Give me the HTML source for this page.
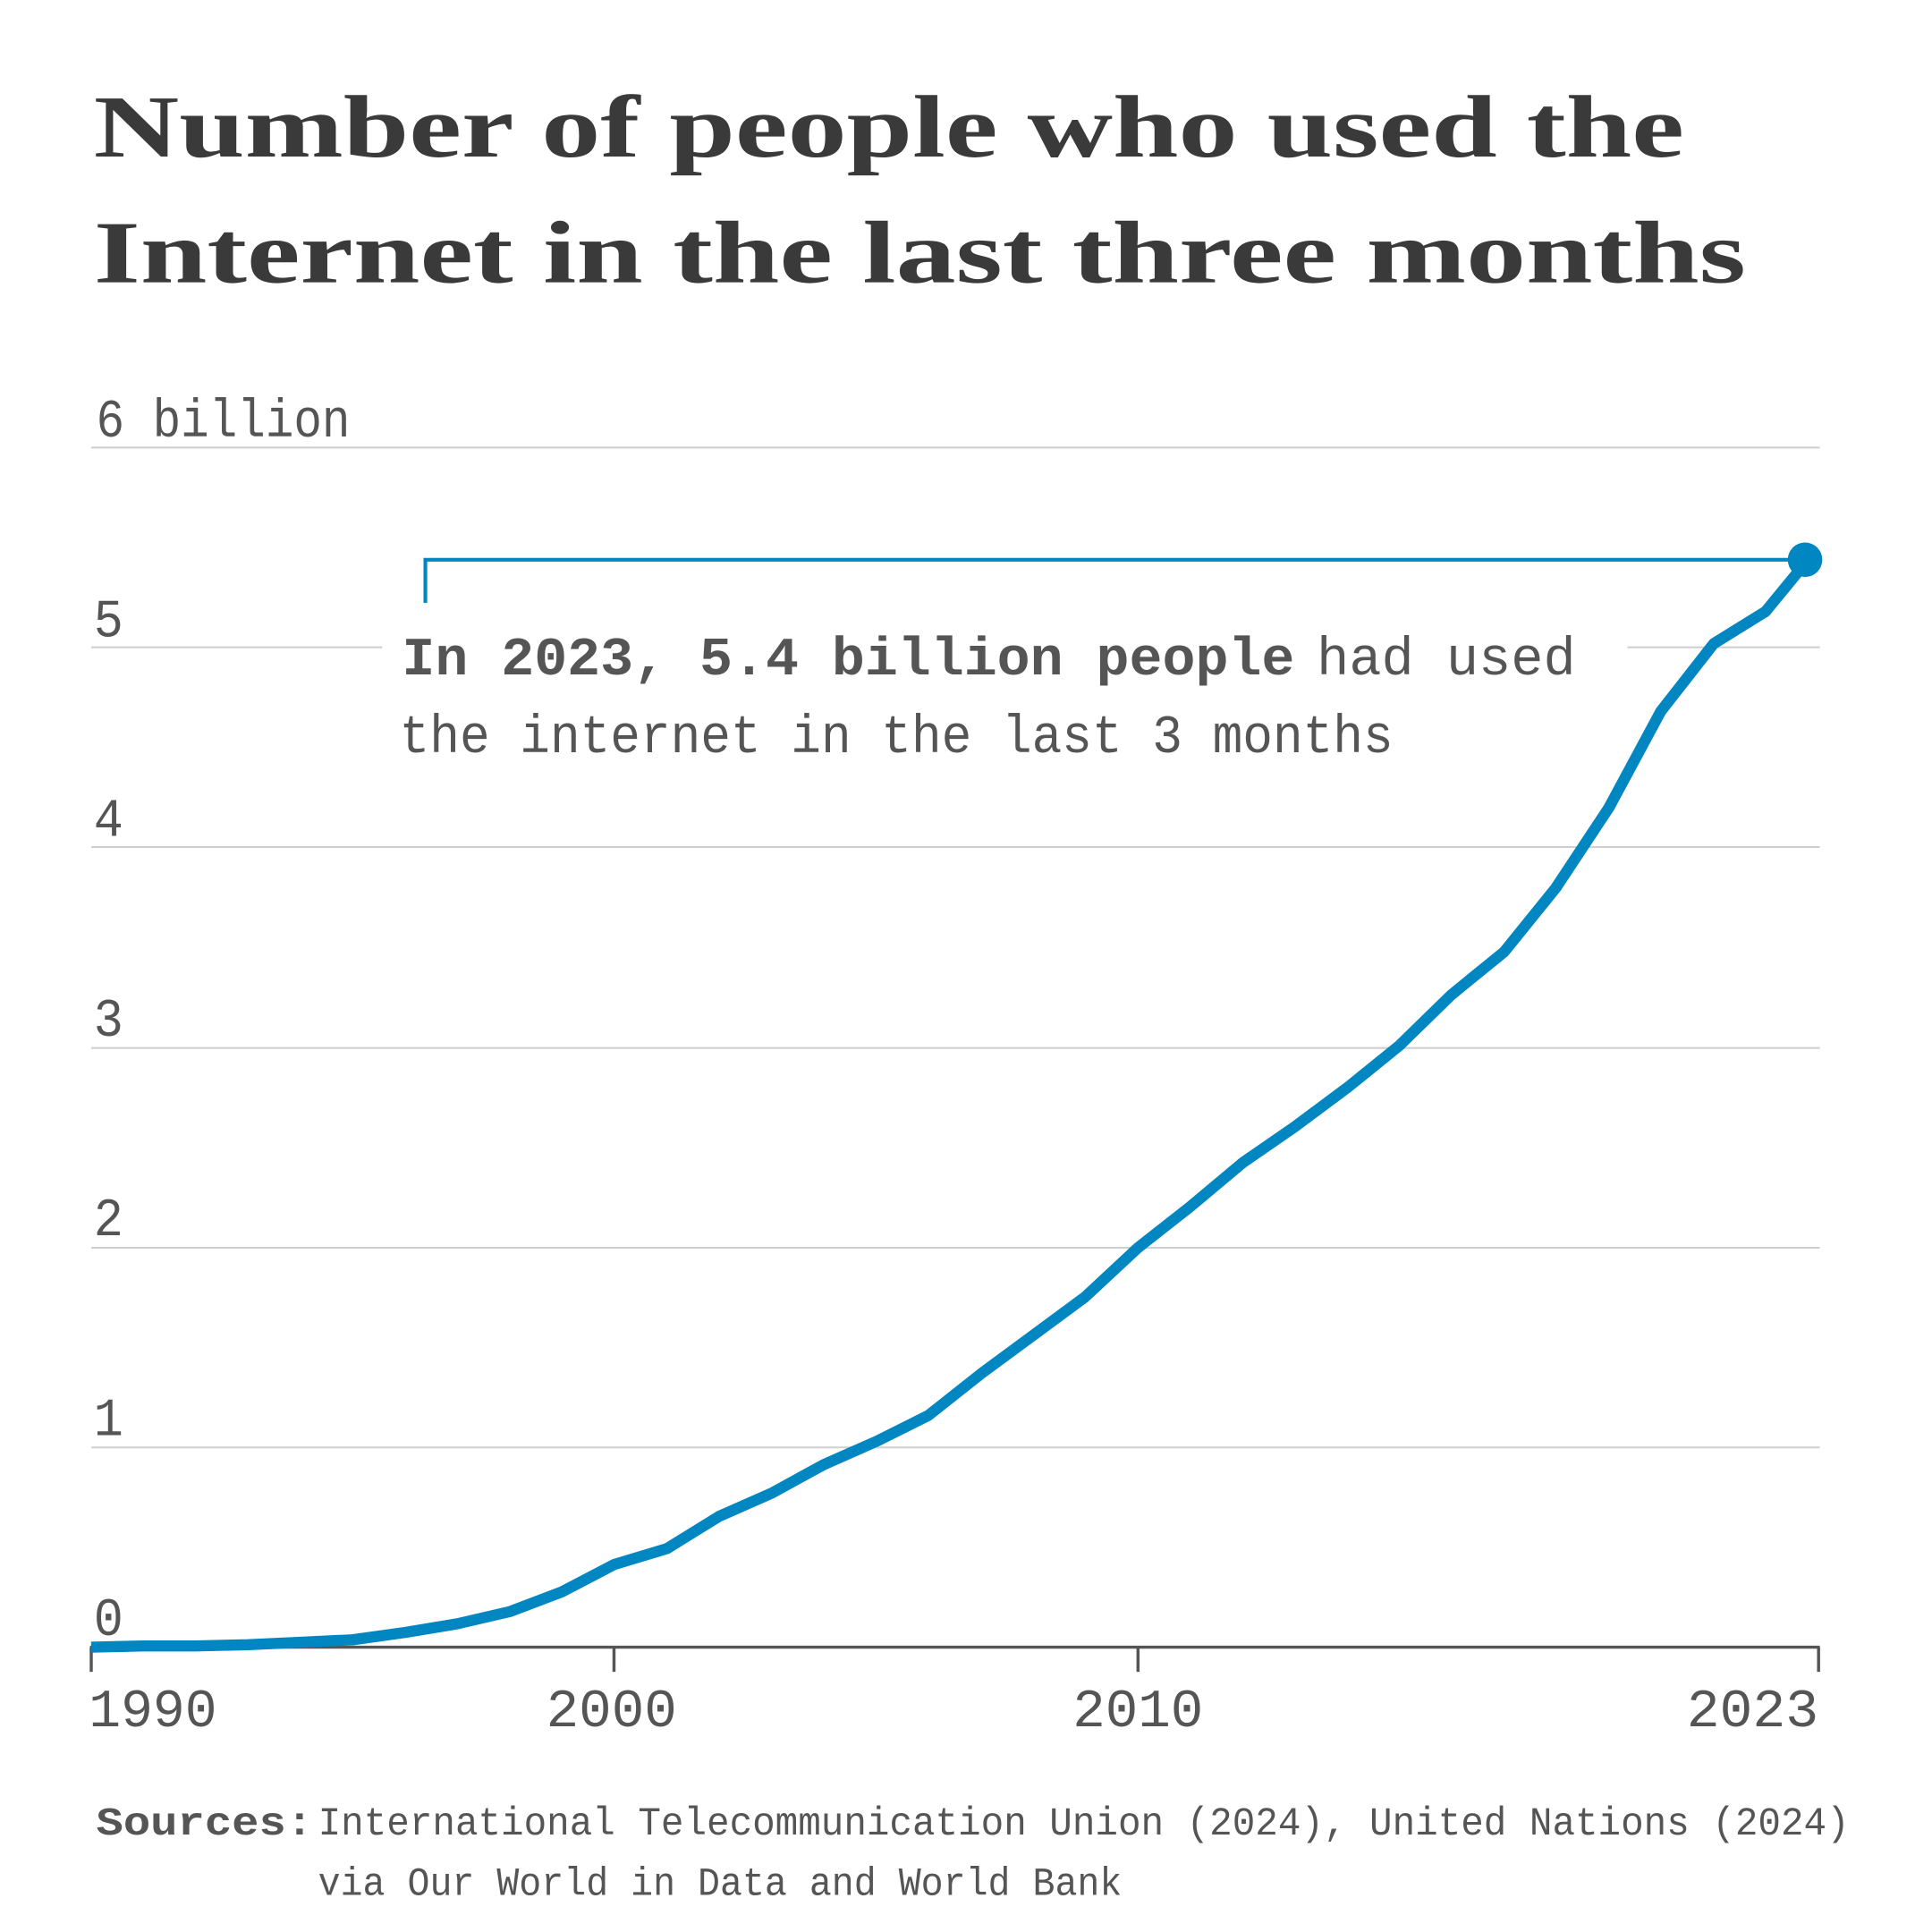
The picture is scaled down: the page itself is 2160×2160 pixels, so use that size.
<!DOCTYPE html>
<html><head><meta charset="utf-8"><style>
html,body{margin:0;padding:0;background:#fff;}
svg{display:block;}
.m{font-family:"Liberation Mono","DejaVu Sans Mono",monospace;fill:#555;}
.t{font-family:"Liberation Serif",serif;font-weight:bold;fill:#3a3a3a;font-size:72px;}
</style></head><body>
<svg width="2160" height="2160" viewBox="0 0 1567 1567" xmlns="http://www.w3.org/2000/svg">
<rect width="1567" height="1567" fill="#fff"/>
<text class="t" x="76" y="127" textLength="1290" lengthAdjust="spacingAndGlyphs">Number of people who used the</text>
<text class="t" x="76" y="229" textLength="1340" lengthAdjust="spacingAndGlyphs">Internet in the last three months</text>
<g stroke="#cfcfcf" stroke-width="1.5">
<line x1="74" y1="363" x2="1476" y2="363"/>
<line x1="74" y1="525" x2="1476" y2="525"/>
<line x1="74" y1="687" x2="1476" y2="687"/>
<line x1="74" y1="850" x2="1476" y2="850"/>
<line x1="74" y1="1012" x2="1476" y2="1012"/>
<line x1="74" y1="1174" x2="1476" y2="1174"/>
</g>
<g class="m" font-size="44">
<text x="78" y="354" textLength="206" lengthAdjust="spacingAndGlyphs">6 billion</text>
<text x="76" y="516" textLength="24" lengthAdjust="spacingAndGlyphs">5</text>
<text x="76" y="678" textLength="24" lengthAdjust="spacingAndGlyphs">4</text>
<text x="76" y="840" textLength="24" lengthAdjust="spacingAndGlyphs">3</text>
<text x="76" y="1002" textLength="24" lengthAdjust="spacingAndGlyphs">2</text>
<text x="76" y="1164" textLength="24" lengthAdjust="spacingAndGlyphs">1</text>
<text x="76" y="1326" textLength="24" lengthAdjust="spacingAndGlyphs">0</text>
<text x="72" y="1400" textLength="104" lengthAdjust="spacingAndGlyphs">1990</text>
<text x="443" y="1400" textLength="106" lengthAdjust="spacingAndGlyphs">2000</text>
<text x="870" y="1400" textLength="106" lengthAdjust="spacingAndGlyphs">2010</text>
<text x="1368" y="1400" textLength="107" lengthAdjust="spacingAndGlyphs">2023</text>
</g>
<g stroke="#555" stroke-width="2.5">
<line x1="73" y1="1336" x2="1476" y2="1336"/>
<line x1="74" y1="1336" x2="74" y2="1356"/>
<line x1="498" y1="1336" x2="498" y2="1356"/>
<line x1="923" y1="1336" x2="923" y2="1356"/>
<line x1="1475" y1="1336" x2="1475" y2="1356"/>
</g>
<rect x="310" y="500" width="1010" height="130" fill="#fff"/>
<path d="M345 489 V454 H1463" fill="none" stroke="#0086c0" stroke-width="3"/>
<polyline fill="none" stroke="#0086c0" stroke-width="9" stroke-linejoin="round" points="74,1336 116,1335 159,1335 201,1334 244,1332 286,1330 329,1324 371,1317 414,1307 456,1291 498,1269 541,1256 583,1230 626,1211 668,1188 711,1169 753,1148 796,1114 838,1083 880,1052 923,1012 965,979 1008,943 1050,914 1093,882 1135,848 1177,807 1220,772 1262,720 1305,655 1347,577 1390,522 1432,496 1464,457"/>
<circle cx="1464" cy="454" r="14" fill="#0086c0"/>
<g class="m" font-size="44">
<text x="326" y="547" font-weight="bold" textLength="724" lengthAdjust="spacingAndGlyphs">In 2023, 5.4 billion people</text>
<text x="1068" y="547" textLength="210" lengthAdjust="spacingAndGlyphs">had used</text>
<text x="324" y="610" textLength="806" lengthAdjust="spacingAndGlyphs">the internet in the last 3 months</text>
</g>
<g class="m" font-size="32">
<text x="78" y="1488" font-weight="bold" textLength="176" lengthAdjust="spacingAndGlyphs">Sources:</text>
<text x="258" y="1488" textLength="1242" lengthAdjust="spacingAndGlyphs">International Telecommunication Union (2024), United Nations (2024)</text>
<text x="258" y="1537" textLength="652" lengthAdjust="spacingAndGlyphs">via Our World in Data and World Bank</text>
</g>
</svg>
</body></html>
